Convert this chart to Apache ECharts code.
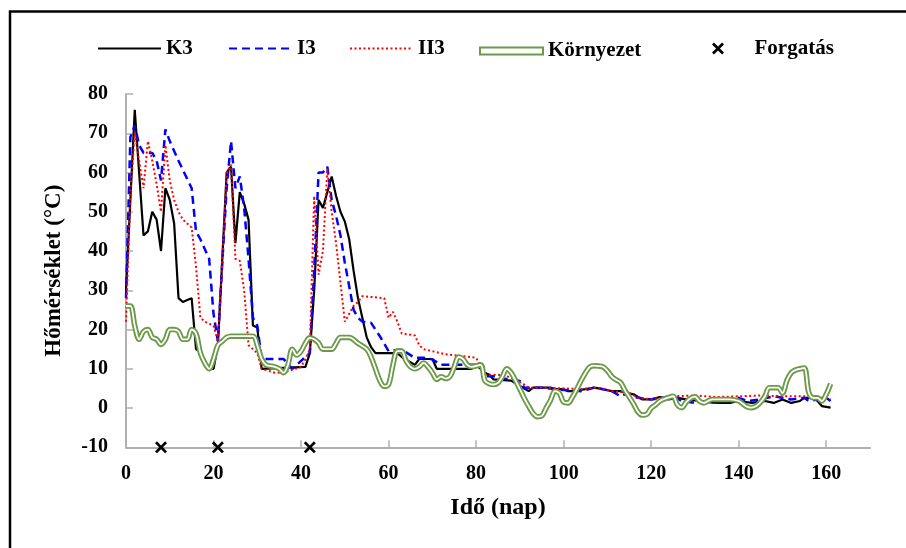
<!DOCTYPE html>
<html>
<head>
<meta charset="utf-8">
<script src="https://cdn.jsdelivr.net/npm/echarts@6/dist/echarts.min.js"></script>
<style>
  html, body { margin: 0; padding: 0; background: #fff; }
  #chart { width: 906px; height: 548px; }
</style>
</head>
<body>
<div id="chart"></div>
<script>
// Compost pile temperatures (K3, I3, II3), ambient temperature and turning days
const xTicks = [0, 20, 40, 60, 80, 100, 120, 140, 160];

const k3Day  = [0, 1, 2, 4, 5, 6, 7, 8, 9, 10,
                11, 12, 13, 14, 15, 16, 17, 18, 19, 20,
                21, 22, 23, 24, 25, 26, 27, 28, 29, 30,
                31, 41, 42, 43, 44, 45, 46, 47, 48, 49,
                50, 51, 52, 53, 54, 55, 56, 57, 62, 63,
                66, 67, 70, 71, 79, 80, 81, 82, 83, 84,
                88, 90, 92, 93, 97, 98, 100, 101, 102, 105,
                107, 109, 111, 113, 114, 116, 117, 118, 120, 122,
                124, 126, 128, 131, 134, 136, 138, 140, 143, 146,
                148, 150, 152, 154, 155, 157, 158, 159, 161];
const k3Temp = [30, 53, 76, 44, 45, 50, 48, 40, 56, 53,
                47, 28, 27, 27.5, 28, 15, 14.5, 11.5, 10, 10,
                16, 38, 60, 61.5, 42, 55, 52, 48, 21, 20.5,
                10, 10.5, 14, 30, 53, 51, 55, 59, 54, 50,
                47.5, 43, 35, 28, 23, 18, 15.5, 14, 14, 13,
                11, 12.5, 12.5, 10, 10, 11, 10, 9, 8.5, 7.3,
                7, 5.6, 4.3, 5.2, 5.2, 4.8, 4.8, 4.3, 4.3, 4.8,
                5.2, 4.8, 4.3, 4.3, 3.9, 3.5, 2.8, 2.2, 2.2, 2.8,
                2.2, 2.6, 2.2, 1.8, 1.4, 1.3, 1.3, 1.8, 1.3, 1.8,
                1.3, 2.2, 1.3, 1.8, 2.6, 2.6, 1.8, 0.5, 0.1];

const i3Day  = [0, 1, 2, 3, 4, 6, 7, 8, 9, 10,
                12, 15, 16, 17, 19, 20, 21, 22, 23, 24,
                25, 26, 27, 28, 29, 30, 31, 36, 38, 40,
                42, 43, 44, 45, 46, 47, 48, 49, 50, 51,
                52, 53, 54, 56, 58, 60, 63, 66, 68, 70,
                72, 80, 81, 82, 84, 85, 90, 91, 95, 98,
                104, 107, 108, 111, 113, 114, 117, 120, 125, 127,
                130, 133, 137, 140, 142, 145, 148, 152, 155, 156,
                158, 160, 161];
const i3Temp = [28, 69, 72, 67, 65, 65, 63, 58, 71, 68,
                63, 56, 45, 43, 38, 24, 17, 37, 56, 68,
                56, 59, 51, 38, 23, 21, 12.5, 12.5, 10, 12,
                14, 35, 60, 60, 61.5, 53, 49, 44, 37, 31,
                25, 23, 22, 21.7, 18.3, 14.5, 14.9, 12.8, 12.8, 12.4,
                11, 11, 10.5, 8.1, 8.1, 7.7, 6.9, 5.2, 5.2, 4.8,
                4.3, 5.2, 5, 4.3, 3, 3.5, 2.6, 2.2, 3, 1.8,
                1.3, 1.8, 2.2, 2.6, 1.8, 2.2, 3, 2.2, 2.6, 1.8,
                2.2, 2.6, 1.8];

const ii3Day  = [0, 1, 2, 3, 4, 5, 6, 7, 8, 9,
                 10, 11, 12, 13, 15, 16, 17, 18, 20, 21,
                 22, 23, 24, 25, 26, 27, 28, 30, 31, 34,
                 36, 40, 41, 42, 43, 44, 45, 46, 47, 48,
                 49, 50, 51, 52, 53, 54, 59, 60, 61, 62,
                 63, 66, 67, 68, 70, 73, 77, 80, 81, 82,
                 85, 87, 89, 91, 92, 96, 104, 107, 111, 115,
                 117, 120, 125, 130, 135, 140, 145, 150, 155, 160,
                 161];
const ii3Temp = [22, 55, 70, 63, 56, 68, 63, 57, 50, 67,
                 58, 53, 50, 48, 46, 36, 23, 22, 21, 17,
                 37, 60, 62, 38, 37.5, 30, 16, 14, 10, 9,
                 9, 10.5, 12.4, 15, 54, 34, 40, 61, 50, 42,
                 32, 22, 24, 26, 27, 28.5, 28, 23, 24.5, 22,
                 19, 18.5, 16, 15, 14.5, 13.7, 13.2, 12.8, 11, 8.5,
                 8.5, 8.1, 7.3, 6, 5.2, 5.2, 4.8, 5.2, 4.3, 3.9,
                 2.6, 2.2, 3, 3.2, 2.8, 3, 3.2, 3, 3, 2.6,
                 2.2];

const envDay  = [0, 1, 2, 3, 4, 5, 6, 7, 8, 9,
                 10, 11, 12, 13, 14, 15, 16, 17, 18, 19,
                 20, 21, 22, 23, 24, 29, 30, 31, 32, 34,
                 35, 36, 37, 38, 39, 40, 41, 42, 43, 44,
                 45, 47, 48, 49, 51, 53, 55, 56, 57, 58,
                 59, 60, 61, 62, 63, 64, 65, 66, 67, 68,
                 69, 70, 71, 72, 73, 74, 75, 76, 77, 78,
                 79, 81, 82, 83, 84, 85, 86, 87, 88, 89,
                 90, 91, 92, 93, 94, 95, 96, 97, 98, 99,
                 100, 101, 102, 103, 104, 105, 106, 107, 108, 109,
                 110, 111, 112, 113, 114, 115, 116, 117, 118, 119,
                 120, 121, 122, 123, 124, 125, 126, 127, 128, 129,
                 130, 131, 132, 133, 134, 138, 140, 141, 142, 143,
                 144, 145, 146, 147, 149, 150, 151, 152, 153, 154,
                 155, 156, 157, 158, 159, 160, 161];
const envTemp = [26, 26, 21, 17.5, 19.5, 20, 18, 17.5, 16.2, 17.5,
                 20, 20, 19.5, 17.5, 17.5, 20, 19, 14, 11.5, 10,
                 12.5, 16, 17, 18, 18.3, 18.3, 16, 12.5, 11, 10.5,
                 10, 9, 11, 15, 13.5, 14.5, 16.5, 17.9, 17.5, 16.6,
                 15, 15, 16.5, 18, 18, 16.5, 15, 13, 10, 7,
                 5.5, 6, 11, 14.5, 14.5, 12, 10.5, 10, 10.5, 11.5,
                 10.5, 9, 7.3, 8, 7.5, 8, 10.5, 13, 12.5, 11,
                 10.5, 11, 7, 6.2, 6, 6.4, 8, 10, 9, 7,
                 4.8, 2.5, 0.5, -1.3, -2.2, -2, 0, 2, 4.3, 3.8,
                 1.5, 1.3, 2.8, 4.8, 7, 9, 10.5, 10.8, 10.7, 10.5,
                 9.5, 8, 7.2, 6.5, 4.5, 2.8, 1, -1, -1.8, -1.6,
                 0, 0.8, 1.8, 2.3, 2.7, 3, 0.8, 0.1, 1.5, 2.5,
                 2.9, 1.8, 1.3, 1.8, 2.2, 2.2, 1.8, 1, 0.3, 0.1,
                 0.5, 1.5, 3, 5.2, 5.2, 3.8, 7, 9, 9.7, 10,
                 10.2, 4, 2.6, 2.6, 1.8, 3.5, 6.2];

// Turning (Forgatás) days, marked on the bottom edge of the plot
const turnDay  = [8, 21, 42];
const turnTemp = [-10, -10, -10];

const pairs = (xs, ys) => xs.map((x, i) => [x, ys[i]]);

const FONT = "'Liberation Serif', 'Times New Roman', serif";
const GREEN = '#6c9a48';
const AXIS_GRAY = '#b0b0b0';
const CROSS = 'path://M0,1.6L1.6,0L5,3.4L8.4,0L10,1.6L6.6,5L10,8.4L8.4,10L5,6.6L1.6,10L0,8.4L3.4,5Z';

const legendText = { fontFamily: FONT, fontWeight: 'bold', fontSize: 21, color: '#000' };
function legendAt(left, w, h, item) {
  return {
    left: left, top: 44 - h / 2, padding: 0,
    itemWidth: w, itemHeight: h,
    selectedMode: false,
    textStyle: legendText,
    data: [item]
  };
}
// line legend entries: plain line, no marker dot in the middle
const lineItem = name => ({ name: name, itemStyle: { opacity: 0 } });

const chart = echarts.init(document.getElementById('chart'), null, { renderer: 'canvas' });

chart.setOption({
  animation: false,
  backgroundColor: '#fff',
  graphic: [{
    type: 'polyline',
    shape: { points: [[10, 600], [10, 11.5], [1000, 11.5]] },
    style: { stroke: '#000', lineWidth: 2.5, fill: null },
    silent: true
  }],
  legend: [
    legendAt(97, 63, 12, lineItem('K3')),
    legendAt(228, 63, 12, lineItem('I3')),
    legendAt(349, 63, 12, lineItem('II3')),
    legendAt(479, 63, 7, { name: 'Környezet', icon: 'rect',
      itemStyle: { color: '#fff', borderColor: GREEN, borderWidth: 2 } }),
    legendAt(712, 63, 12, { name: 'Forgatás', icon: CROSS,
      itemStyle: { color: '#000', borderWidth: 0, opacity: 1 } })
  ],
  grid: { left: 126, top: 94, right: 36, bottom: 100.7, containLabel: false },
  xAxis: {
    type: 'value', min: 0, max: 170, interval: 20,
    name: 'Idő (nap)', nameLocation: 'middle', nameGap: 48,
    nameTextStyle: { fontFamily: FONT, fontWeight: 'bold', fontSize: 24, color: '#000' },
    axisLine: { onZero: false, lineStyle: { color: AXIS_GRAY, width: 2 } },
    axisTick: { inside: true, length: 7, customValues: xTicks, lineStyle: { color: AXIS_GRAY, width: 1.5 } },
    axisLabel: { customValues: xTicks, fontFamily: FONT, fontWeight: 'bold', fontSize: 20, color: '#000', margin: 17 },
    splitLine: { show: false }
  },
  yAxis: {
    type: 'value', min: -10, max: 80, interval: 10,
    name: 'Hőmérséklet (°C)', nameLocation: 'middle', nameRotate: 90, nameGap: 60,
    nameTextStyle: { fontFamily: FONT, fontWeight: 'bold', fontSize: 23, color: '#000' },
    axisLine: { show: true, onZero: false, lineStyle: { color: AXIS_GRAY, width: 2 } },
    axisTick: { show: true, inside: true, length: 7, lineStyle: { color: AXIS_GRAY, width: 1.5 } },
    axisLabel: { fontFamily: FONT, fontWeight: 'bold', fontSize: 20, color: '#000', margin: 18 },
    splitLine: { show: false }
  },
  series: [
    {
      name: 'K3', type: 'line', data: pairs(k3Day, k3Temp),
      showSymbol: false, symbol: 'none',
      lineStyle: { color: '#000', width: 2.2 }, itemStyle: { color: '#000' }
    },
    {
      name: 'I3', type: 'line', data: pairs(i3Day, i3Temp),
      showSymbol: false, symbol: 'none',
      lineStyle: { color: '#0000ff', width: 2.5, type: [8, 5] }, itemStyle: { color: '#0000ff' }
    },
    {
      name: 'II3', type: 'line', data: pairs(ii3Day, ii3Temp),
      showSymbol: false, symbol: 'none',
      lineStyle: { color: '#ff0000', width: 2, type: [2, 2.5] }, itemStyle: { color: '#ff0000' }
    },
    {
      name: 'Környezet', type: 'line', data: pairs(envDay, envTemp),
      showSymbol: false, symbol: 'none', smooth: 0.35,
      lineStyle: { color: GREEN, width: 5.5 }, itemStyle: { color: GREEN }
    },
    {
      // white core that turns the ambient curve into a double line
      name: 'Környezet-core', type: 'line', data: pairs(envDay, envTemp),
      showSymbol: false, symbol: 'none', smooth: 0.35, silent: true,
      lineStyle: { color: '#fff', width: 1.8 }, itemStyle: { color: '#fff' }
    },
    {
      name: 'Forgatás', type: 'scatter', data: pairs(turnDay, turnTemp),
      symbol: CROSS, symbolSize: 12, clip: false, z: 10,
      itemStyle: { color: '#000', opacity: 1 }
    }
  ]
});
</script>
</body>
</html>
